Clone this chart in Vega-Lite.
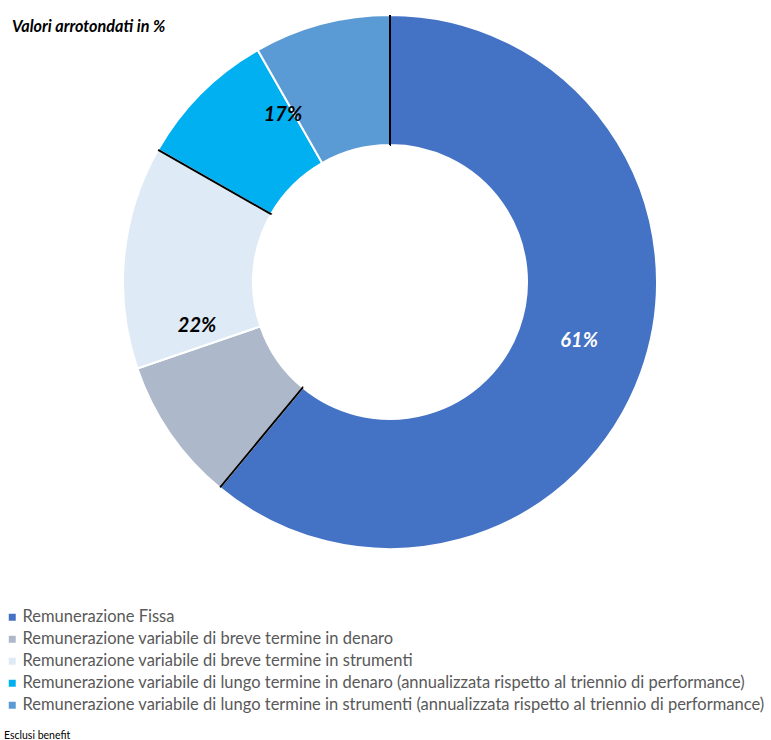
{
  "$schema": "https://vega.github.io/schema/vega-lite/v6.json",
  "width": 762,
  "height": 564,
  "autosize": {"type": "none"},
  "padding": {"left": 9, "top": 0, "right": 0, "bottom": 176},
  "background": "white",
  "title": {
    "text": "Valori arrotondati in %",
    "anchor": "start",
    "frame": "group",
    "orient": "top",
    "font": "Lato",
    "fontSize": 16.2,
    "fontWeight": "bold",
    "fontStyle": "italic",
    "color": "black",
    "dx": 3,
    "dy": 39
  },
  "datasets": {
    "slices": [
      {"cat": "Remunerazione Fissa", "value": 61, "idx": 1},
      {"cat": "Remunerazione variabile di breve termine in denaro", "value": 8.75, "idx": 2},
      {"cat": "Remunerazione variabile di breve termine in strumenti", "value": 13.5, "idx": 3},
      {"cat": "Remunerazione variabile di lungo termine in denaro (annualizzata rispetto al triennio di performance)", "value": 8.5, "idx": 4},
      {"cat": "Remunerazione variabile di lungo termine in strumenti (annualizzata rispetto al triennio di performance)", "value": 8.25, "idx": 5}
    ],
    "groups": [
      {"group": "Fissa", "value": 61, "label": "61%", "idx": 1},
      {"group": "Breve", "value": 22.25, "label": "22%", "idx": 2},
      {"group": "Lungo", "value": 16.75, "label": "17%", "idx": 3}
    ]
  },
  "layer": [
    {
      "data": {"name": "slices"},
      "mark": {"type": "arc", "outerRadius": 267, "innerRadius": 137, "stroke": "white", "strokeWidth": 2},
      "encoding": {
        "theta": {"field": "value", "type": "quantitative", "stack": true},
        "order": {"field": "idx", "type": "quantitative"},
        "color": {
          "field": "cat",
          "type": "nominal",
          "scale": {
            "domain": [
              "Remunerazione Fissa",
              "Remunerazione variabile di breve termine in denaro",
              "Remunerazione variabile di breve termine in strumenti",
              "Remunerazione variabile di lungo termine in denaro (annualizzata rispetto al triennio di performance)",
              "Remunerazione variabile di lungo termine in strumenti (annualizzata rispetto al triennio di performance)"
            ],
            "range": ["#4472C4", "#ADB9CA", "#DEEBF7", "#00B0F0", "#5B9BD5"]
          },
          "legend": {
            "orient": "none",
            "legendX": -5,
            "legendY": 609,
            "title": "Esclusi benefit",
            "titleOrient": "bottom",
            "titleAnchor": "start",
            "titleFont": "Lato",
            "titleFontSize": 10.5,
            "titleFontWeight": "normal",
            "titleColor": "black",
            "titlePadding": 17,
            "labelFont": "Lato",
            "labelFontSize": 16.5,
            "labelColor": "#595959",
            "labelLimit": 0,
            "labelOffset": 2,
            "symbolType": "square",
            "symbolSize": 49,
            "symbolStrokeWidth": 0,
            "rowPadding": 5,
            "padding": 0
          }
        }
      }
    },
    {
      "data": {"name": "groups"},
      "transform": [{"stack": "value", "groupby": [], "sort": [{"field": "idx"}], "as": ["v0", "v1"]}, {"filter": "datum.group === 'Fissa'"}],
      "mark": {"type": "arc", "outerRadius": 267, "innerRadius": 137, "filled": false, "stroke": "black", "strokeWidth": 2, "strokeDash": [0, 1023.34, 130, 100000]},
      "encoding": {
        "theta": {"field": "v0", "type": "quantitative"},
        "theta2": {"field": "v1"}
      }
    },
    {
      "data": {"name": "groups"},
      "transform": [{"stack": "value", "groupby": [], "sort": [{"field": "idx"}], "as": ["v0", "v1"]}, {"filter": "datum.group === 'Breve'"}],
      "mark": {"type": "arc", "outerRadius": 267, "innerRadius": 137, "filled": false, "stroke": "black", "strokeWidth": 2, "strokeDash": [0, 373.27, 130, 100000]},
      "encoding": {
        "theta": {"field": "v0", "type": "quantitative"},
        "theta2": {"field": "v1"}
      }
    },
    {
      "data": {"name": "groups"},
      "transform": [{"stack": "value", "groupby": [], "sort": [{"field": "idx"}], "as": ["v0", "v1"]}, {"filter": "datum.group === 'Lungo'"}],
      "mark": {"type": "arc", "outerRadius": 267, "innerRadius": 137, "filled": false, "stroke": "black", "strokeWidth": 2, "strokeDash": [0, 281.0, 130, 100000]},
      "encoding": {
        "theta": {"field": "v0", "type": "quantitative"},
        "theta2": {"field": "v1"}
      }
    },
    {
      "data": {"name": "groups"},
      "mark": {"type": "text", "radius": 198, "thetaOffset": -0.045, "font": "Lato", "fontSize": 20, "fontWeight": "bold", "fontStyle": "italic", "align": "center", "baseline": "middle"},
      "encoding": {
        "theta": {"field": "value", "type": "quantitative", "stack": true},
        "order": {"field": "idx", "type": "quantitative"},
        "text": {"field": "label", "type": "nominal"},
        "color": {"condition": {"test": "datum.group === 'Fissa'", "value": "white"}, "value": "black"}
      }
    }
  ],
  "config": {"view": {"stroke": null}}
}
